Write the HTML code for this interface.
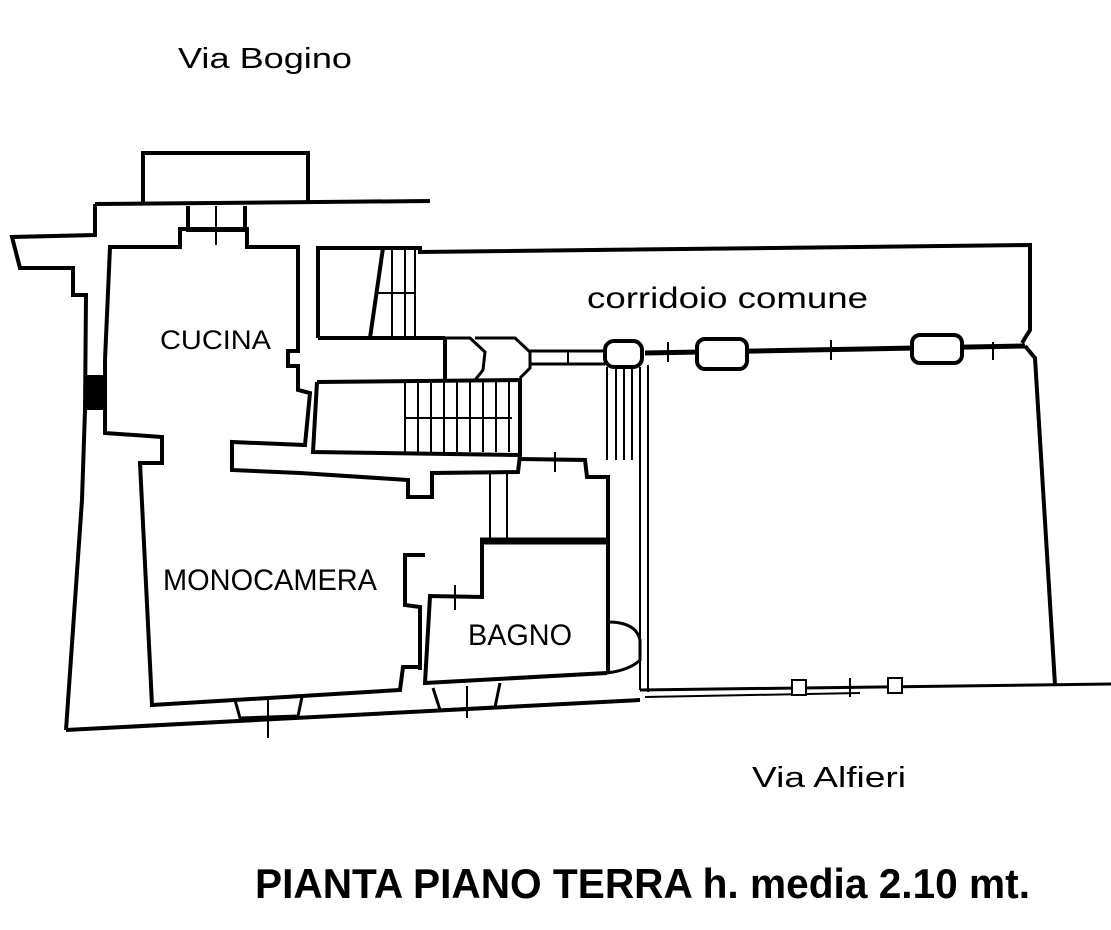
<!DOCTYPE html>
<html><head><meta charset="utf-8"><style>
html,body{margin:0;padding:0;background:#fff;width:1111px;height:930px;overflow:hidden}
svg{display:block}
text{font-family:"Liberation Sans",sans-serif;fill:#000}
</style></head><body>
<svg width="1111" height="930" viewBox="0 0 1111 930" xmlns="http://www.w3.org/2000/svg">
<g fill="none" stroke="#000" stroke-width="4" stroke-linejoin="miter">
<polyline points="143,205 143,153 308,153 308,203"/>
<line x1="95" y1="204" x2="430" y2="201"/>
<polyline points="95,204 95,235 12,237 20,268 73,268 73,295 86,295 85,410 82,500 66,730"/>
<rect x="86" y="375" width="18" height="35" fill="#000" stroke="none"/>
<polyline points="66,730 640,700"/>
<line x1="640" y1="690" x2="1111" y2="684" stroke-width="3"/>
<line x1="645" y1="697" x2="860" y2="693" stroke-width="2"/>
<polyline points="105,360 110,247 180,247 180,229 247,229 247,247 298,247 298,351 288,351 288,366 298,366 298,390 310,393 305,445 232,442 232,470 300,473 408,480 408,497 432,497 432,473 518,472 520,455"/>
<polyline points="105,360 105,433 162,437 162,463 140,463 152,705 400,690 403,667 420,667"/>
<polyline points="188,206 188,230 245,230 245,206"/>
<line x1="216" y1="206" x2="216" y2="245" stroke-width="2"/>
<polyline points="318,338 318,248 420,248 420,252 1030,245 1030,330 1022,343"/>
<line x1="645" y1="353" x2="1025" y2="346" stroke-width="5"/>
<polyline points="1025,346 1035,358 1055,685"/>
<rect x="697" y="339" width="50" height="30" rx="8" fill="#fff"/>
<rect x="912" y="335" width="50" height="28" rx="8" fill="#fff"/>
<rect x="605" y="341" width="37" height="26" rx="9" fill="#fff"/>
<line x1="831" y1="340" x2="831" y2="360" stroke-width="2"/>
<line x1="993" y1="342" x2="993" y2="360" stroke-width="2"/>
<line x1="668" y1="342" x2="668" y2="362" stroke-width="2"/>
<polyline points="318,338 445,338"/>
<polyline points="383,248 370,338" stroke-width="4"/>
<line x1="392" y1="248" x2="392" y2="338" stroke-width="2"/>
<line x1="405" y1="248" x2="405" y2="338" stroke-width="2"/>
<line x1="415" y1="248" x2="415" y2="338" stroke-width="2"/>
<line x1="378" y1="293" x2="415" y2="293" stroke-width="2"/>
<polyline points="445,338 445,380"/>
<polyline points="445,338 470,338 485,352 483,370 475,380" stroke-width="3"/>
<polyline points="475,338 515,338 530,352 530,368 520,378" stroke-width="3"/>
<line x1="530" y1="351" x2="605" y2="351" stroke-width="3"/>
<line x1="530" y1="364" x2="605" y2="364" stroke-width="3"/>
<line x1="568" y1="351" x2="568" y2="364" stroke-width="2"/>
<polyline points="317,382 520,380 520,455 313,452 317,382"/>
<g stroke-width="2">
<line x1="405" y1="381" x2="405" y2="452"/><line x1="418" y1="381" x2="418" y2="452"/>
<line x1="431" y1="381" x2="431" y2="452"/><line x1="444" y1="381" x2="444" y2="452"/>
<line x1="457" y1="381" x2="457" y2="452"/><line x1="470" y1="381" x2="470" y2="452"/>
<line x1="483" y1="381" x2="483" y2="452"/><line x1="496" y1="381" x2="496" y2="452"/>
<line x1="509" y1="381" x2="509" y2="452"/><line x1="405" y1="418" x2="512" y2="418"/>
</g>
<g stroke-width="2">
<line x1="607" y1="367" x2="607" y2="460"/><line x1="616" y1="367" x2="616" y2="460"/>
<line x1="624" y1="367" x2="624" y2="460"/><line x1="632" y1="367" x2="632" y2="460"/>
<line x1="640" y1="367" x2="640" y2="690"/><line x1="648" y1="365" x2="648" y2="692"/>
</g>
<polyline points="520,459 585,460 587,477 608,477 608,673" stroke-width="4"/>
<line x1="490" y1="473" x2="490" y2="540" stroke-width="2"/>
<line x1="507" y1="473" x2="507" y2="540" stroke-width="2"/>
<line x1="555" y1="452" x2="555" y2="472" stroke-width="2"/>
<line x1="480" y1="541" x2="608" y2="541" stroke-width="7"/>
<polyline points="482,541 482,597 428,596"/>
<polyline points="430,596 425,683 607,673"/>
<path d="M608,622 Q636,622 640,640 L640,660 Q630,670 607,673" stroke-width="3"/>
<line x1="455" y1="585" x2="455" y2="610" stroke-width="2"/>
<polyline points="425,555 405,555 405,605 420,607 420,670" stroke-width="4"/>
<polyline points="235,700 240,718 298,716 302,697" stroke-width="3"/>
<line x1="268" y1="700" x2="268" y2="738" stroke-width="2"/>
<polyline points="433,688 440,710 495,707 500,683" stroke-width="3"/>
<line x1="467" y1="686" x2="467" y2="718" stroke-width="2"/>
<rect x="792" y="680" width="14" height="15" stroke-width="2" fill="#fff"/>
<rect x="888" y="678" width="14" height="15" stroke-width="2" fill="#fff"/>
<line x1="850" y1="678" x2="850" y2="697" stroke-width="2"/>
</g>
<text x="178" y="68" font-size="29" textLength="174" lengthAdjust="spacingAndGlyphs">Via Bogino</text>
<text x="160" y="349" font-size="27" textLength="111" lengthAdjust="spacingAndGlyphs">CUCINA</text>
<text x="587" y="308" font-size="30" textLength="281" lengthAdjust="spacingAndGlyphs">corridoio comune</text>
<text x="163" y="590" font-size="30" textLength="214" lengthAdjust="spacingAndGlyphs">MONOCAMERA</text>
<text x="468" y="645" font-size="30" textLength="104" lengthAdjust="spacingAndGlyphs">BAGNO</text>
<text x="752" y="787" font-size="29" textLength="154" lengthAdjust="spacingAndGlyphs">Via Alfieri</text>
<text x="255" y="898" font-size="42" font-weight="bold" textLength="775" lengthAdjust="spacingAndGlyphs">PIANTA PIANO TERRA h. media 2.10 mt.</text>
</svg>
</body></html>
